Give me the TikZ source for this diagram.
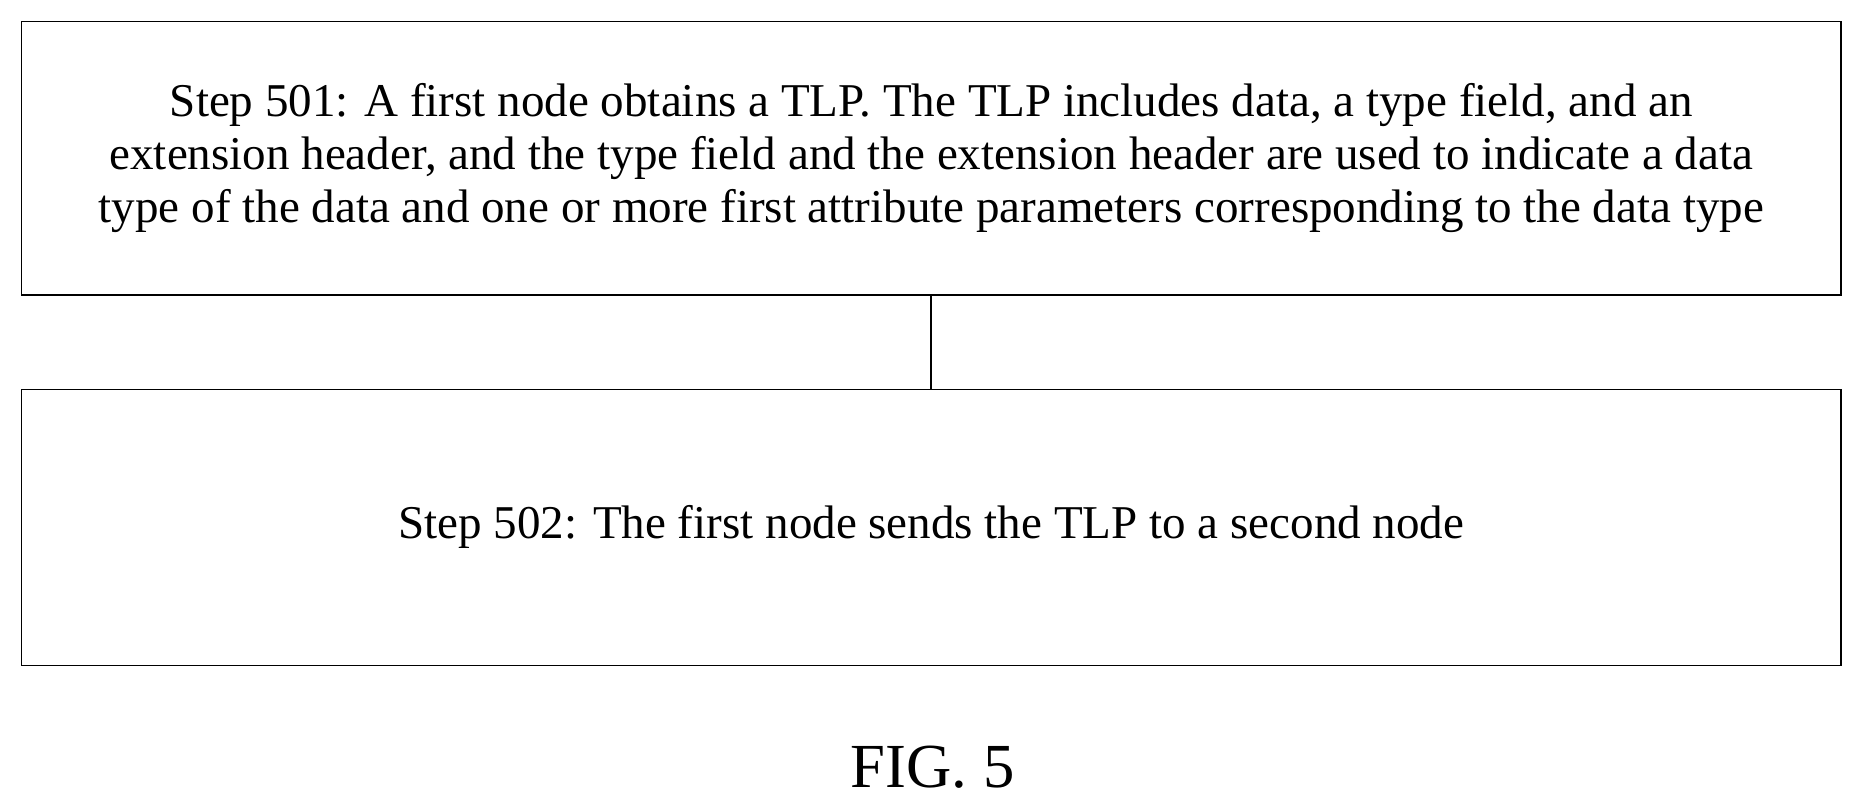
\documentclass[tikz,border=0pt]{standalone}
\usepackage{fontspec}
\setmainfont{Liberation Serif}
\usetikzlibrary{positioning}

\begin{document}
\begin{tikzpicture}[
    every node/.style={font=\fontsize{22.5}{25.5}\selectfont},
    stepbox/.style={draw, thick, minimum width=30.6cm, align=center},
    link/.style={thick}
]
\useasboundingbox (0,0) rectangle (31.36,-13.6);

% === STEPS ===
\node [stepbox, minimum height=4.6cm] (s501) at (15.66,-2.66)
    {Step 501: A first node obtains a TLP. The TLP includes data, a type field, and an\\
     extension header, and the type field and the extension header are used to indicate a data\\
     type of the data and one or more first attribute parameters corresponding to the data type};
\node [stepbox, minimum height=4.64cm, below=1.56cm of s501] (s502)
    {Step 502: The first node sends the TLP to a second node};

% === LINK ===
\draw[link] (s501) -- (s502);

% caption
\node [font=\fontsize{30}{36}\selectfont] (fig) at (15.68,-12.9) {FIG. 5};
\end{tikzpicture}
\end{document}
